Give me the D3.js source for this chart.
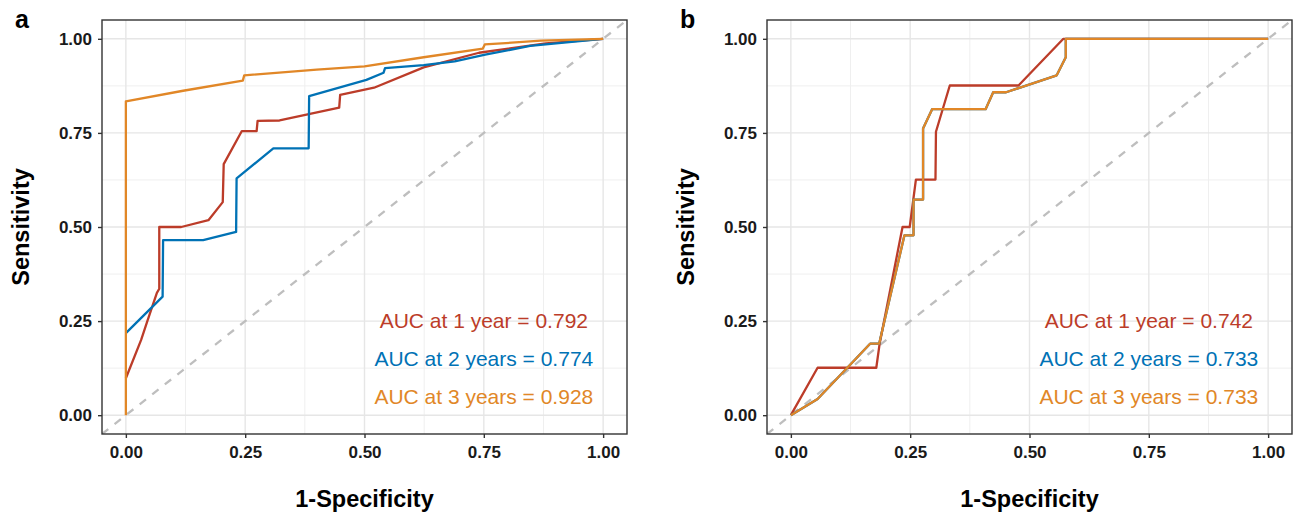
<!DOCTYPE html>
<html>
<head>
<meta charset="utf-8">
<script src="https://cdn.jsdelivr.net/npm/d3@7"></script>
<style>
  body { margin: 0; background: #fff; }
  svg { display: block; }
  text { font-family: "Liberation Sans", Arial, sans-serif; }
</style>
</head>
<body>
<svg width="1302" height="514"></svg>
<script>
// ============== DATA ==============

let ticks = [0, 0.25, 0.5, 0.75, 1];
let minorTicks = [0.125, 0.375, 0.625, 0.875];
let seriesNames = ["1 year", "2 years", "3 years"];
let colors = ["#BC3C29", "#0072B5", "#E18727"];
let aucA = [0.792, 0.774, 0.928];
let aucB = [0.742, 0.733, 0.733];

// panel a, ROC points (1-specificity, sensitivity)
let fprA1 = [0, 0.032, 0.045, 0.065, 0.070, 0.070, 0.116, 0.173, 0.203, 0.205, 0.243, 0.274, 0.276, 0.322, 0.447, 0.449, 0.520, 0.624, 0.740, 0.880, 1];
let tprA1 = [0.098, 0.200, 0.250, 0.325, 0.336, 0.500, 0.500, 0.518, 0.566, 0.667, 0.755, 0.755, 0.782, 0.783, 0.817, 0.851, 0.870, 0.924, 0.963, 0.988, 1];
let fprA2 = [0, 0.077, 0.078, 0.162, 0.231, 0.232, 0.309, 0.383, 0.384, 0.504, 0.540, 0.543, 0.624, 0.689, 0.753, 0.847, 1];
let tprA2 = [0.218, 0.315, 0.465, 0.465, 0.487, 0.629, 0.709, 0.709, 0.848, 0.891, 0.910, 0.922, 0.930, 0.940, 0.958, 0.981, 1];
let fprA3 = [0, 0, 0.120, 0.245, 0.248, 0.400, 0.500, 0.624, 0.748, 0.752, 0.870, 1];
let tprA3 = [0, 0.834, 0.862, 0.889, 0.903, 0.918, 0.927, 0.951, 0.974, 0.985, 0.995, 1];

// panel b
let fprB1 = [0, 0.056, 0.179, 0.186, 0.234, 0.249, 0.262, 0.303, 0.304, 0.333, 0.477, 0.571, 1];
let tprB1 = [0, 0.126, 0.126, 0.190, 0.500, 0.500, 0.626, 0.626, 0.753, 0.876, 0.876, 1, 1];
let fprB2 = [0, 0.056, 0.166, 0.185, 0.238, 0.257, 0.257, 0.277, 0.277, 0.296, 0.408, 0.424, 0.451, 0.557, 0.576, 0.576, 1];
let tprB2 = [0, 0.043, 0.190, 0.190, 0.478, 0.478, 0.573, 0.573, 0.762, 0.813, 0.813, 0.858, 0.858, 0.903, 0.951, 1, 1];
let fprB3 = [0, 0.056, 0.166, 0.185, 0.238, 0.257, 0.257, 0.277, 0.277, 0.296, 0.408, 0.424, 0.451, 0.557, 0.576, 0.576, 1];
let tprB3 = [0, 0.043, 0.190, 0.190, 0.478, 0.478, 0.573, 0.573, 0.762, 0.813, 0.813, 0.858, 0.858, 0.903, 0.951, 1, 1];

// ============== LAYOUT ==============

let svg = d3.select("svg"),
    plotTop = 20,
    plotBottom = 434,
    plotWidth = 525;

let panels = [
  {label: "a", left: 102, fpr: [fprA1, fprA2, fprA3], tpr: [tprA1, tprA2, tprA3], auc: aucA},
  {label: "b", left: 767, fpr: [fprB1, fprB2, fprB3], tpr: [tprB1, tprB2, tprB3], auc: aucB}
];

// ============== DRAW ==============

panels.forEach(function(p, i) {
  let x = d3.scaleLinear().domain([-0.05, 1.05]).range([p.left, p.left + plotWidth]),
      y = d3.scaleLinear().domain([-0.05, 1.05]).range([plotBottom, plotTop]);

  let g = svg.append("g");

  g.append("clipPath").attr("id", "clip" + i)
    .append("rect")
    .attr("x", p.left).attr("y", plotTop)
    .attr("width", plotWidth).attr("height", plotBottom - plotTop);

  // grid
  let grid = g.append("g");
  grid.selectAll(".minor-x").data(minorTicks).enter().append("line")
    .attr("x1", d => x(d)).attr("x2", d => x(d))
    .attr("y1", plotTop).attr("y2", plotBottom)
    .attr("stroke", "#efefef").attr("stroke-width", 1);
  grid.selectAll(".minor-y").data(minorTicks).enter().append("line")
    .attr("y1", d => y(d)).attr("y2", d => y(d))
    .attr("x1", p.left).attr("x2", p.left + plotWidth)
    .attr("stroke", "#efefef").attr("stroke-width", 1);
  grid.selectAll(".major-x").data(ticks).enter().append("line")
    .attr("x1", d => x(d)).attr("x2", d => x(d))
    .attr("y1", plotTop).attr("y2", plotBottom)
    .attr("stroke", "#e6e6e6").attr("stroke-width", 1.4);
  grid.selectAll(".major-y").data(ticks).enter().append("line")
    .attr("y1", d => y(d)).attr("y2", d => y(d))
    .attr("x1", p.left).attr("x2", p.left + plotWidth)
    .attr("stroke", "#e6e6e6").attr("stroke-width", 1.4);

  // reference diagonal
  g.append("line")
    .attr("clip-path", "url(#clip" + i + ")")
    .attr("x1", x(-0.05)).attr("y1", y(-0.05))
    .attr("x2", x(1.05)).attr("y2", y(1.05))
    .attr("stroke", "#bebebe").attr("stroke-width", 2.3)
    .attr("stroke-dasharray", "8,8");

  // curves
  let line = d3.line().x(d => x(d[0])).y(d => y(d[1]));
  seriesNames.forEach(function(name, k) {
    let pts = p.fpr[k].map((f, j) => [f, p.tpr[k][j]]);
    g.append("path")
      .datum(pts)
      .attr("d", line)
      .attr("fill", "none")
      .attr("stroke", colors[k])
      .attr("stroke-width", 2.3)
      .attr("stroke-linejoin", "round");
  });

  // AUC labels
  g.selectAll(".auc").data(seriesNames).enter().append("text")
    .attr("x", x(0.75))
    .attr("y", (d, k) => y(0.25 - 0.1 * k))
    .attr("dy", "0.35em")
    .attr("text-anchor", "middle")
    .attr("font-size", "21px")
    .attr("fill", (d, k) => colors[k])
    .text((d, k) => "AUC at " + d + " = " + p.auc[k].toFixed(3));

  // border
  g.append("rect")
    .attr("x", p.left).attr("y", plotTop)
    .attr("width", plotWidth).attr("height", plotBottom - plotTop)
    .attr("fill", "none").attr("stroke", "#333").attr("stroke-width", 1.4);

  // axes
  let xAxis = g.append("g")
    .attr("transform", "translate(0," + plotBottom + ")")
    .call(d3.axisBottom(x).tickValues(ticks).tickFormat(d3.format(".2f")).tickSize(4).tickPadding(8));
  let yAxis = g.append("g")
    .attr("transform", "translate(" + p.left + ",0)")
    .call(d3.axisLeft(y).tickValues(ticks).tickFormat(d3.format(".2f")).tickSize(4).tickPadding(6));
  [xAxis, yAxis].forEach(function(a) {
    a.select(".domain").remove();
    a.selectAll(".tick line").attr("stroke", "#333").attr("stroke-width", 1.4);
    a.selectAll(".tick text")
      .attr("fill", "#1a1a1a")
      .attr("font-size", "17px")
      .attr("font-weight", "bold")
      .attr("font-family", "Liberation Sans, Arial, sans-serif");
  });

  // titles
  g.append("text")
    .attr("x", p.left + plotWidth / 2)
    .attr("y", 507)
    .attr("text-anchor", "middle")
    .attr("font-size", "23.5px")
    .attr("font-weight", "bold")
    .text("1-Specificity");

  g.append("text")
    .attr("transform", "translate(" + (p.left - 73) + "," + (plotTop + plotBottom) / 2 + ") rotate(-90)")
    .attr("text-anchor", "middle")
    .attr("font-size", "23.5px")
    .attr("font-weight", "bold")
    .text("Sensitivity");

  g.append("text")
    .attr("x", p.left - 87)
    .attr("y", 28)
    .attr("font-size", "25px")
    .attr("font-weight", "bold")
    .text(p.label);
});
</script>
</body>
</html>
